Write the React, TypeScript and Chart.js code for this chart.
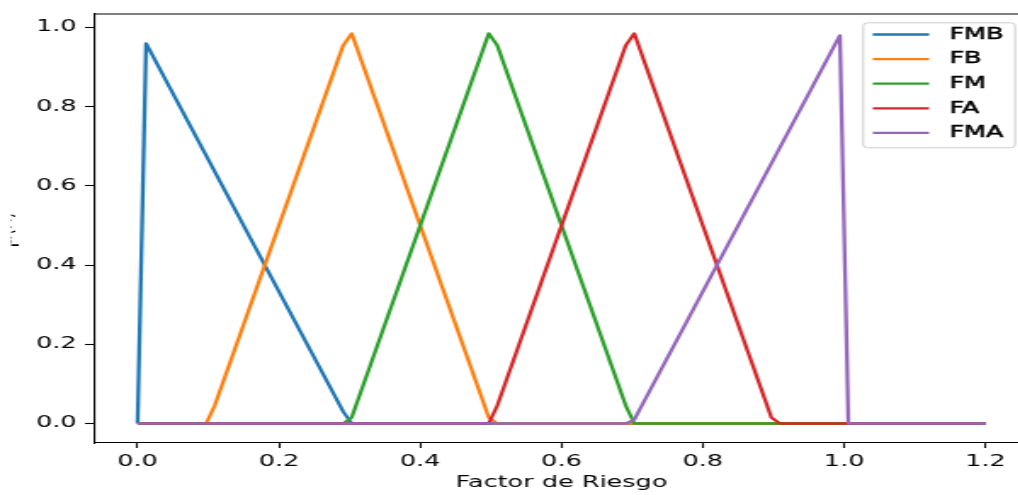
import React, { useEffect, useRef } from 'react';
import { Chart, registerables } from 'chart.js';

Chart.register(...registerables);

// ---- data ----
const seriesNames = ['FMB', 'FB', 'FM', 'FA', 'FMA'];
const seriesColors = ['#1f77b4', '#ff7f0e', '#2ca02c', '#d62728', '#9467bd'];

const fmbX = [0, 0.012, 0.291, 0.303, 1.2];
const fmbY = [0, 0.96, 0.03, 0, 0];
const fbX = [0, 0.097, 0.109, 0.291, 0.303, 0.497, 0.509, 1.2];
const fbY = [0, 0, 0.045, 0.955, 0.985, 0.015, 0, 0];
const fmX = [0, 0.291, 0.303, 0.497, 0.509, 0.691, 0.703, 1.2];
const fmY = [0, 0, 0.015, 0.985, 0.955, 0.045, 0, 0];
const faX = [0, 0.497, 0.509, 0.691, 0.703, 0.897, 0.909, 1.2];
const faY = [0, 0, 0.045, 0.955, 0.985, 0.015, 0, 0];
const fmaX = [0, 0.691, 0.703, 0.994, 1.006, 1.2];
const fmaY = [0, 0, 0.01, 0.98, 0, 0];

const xTicks = [0, 0.2, 0.4, 0.6, 0.8, 1.0, 1.2];
const xTickLabels = ['0.0', '0.2', '0.4', '0.6', '0.8', '1.0', '1.2'];
const yTicks = [0, 0.2, 0.4, 0.6, 0.8, 1.0];
const yTickLabels = ['0.0', '0.2', '0.4', '0.6', '0.8', '1.0'];
const xTitle = 'Factor de Riesgo';
const yTitle = 'μ(x)';

// ---- layout / style ----
const STRETCH = 1.7;
const CANVAS_W = 615;
const CANVAS_H = 495;
const FONT = '"DejaVu Sans", sans-serif';
const LINE_W = 2.3;

const allX = [fmbX, fbX, fmX, faX, fmaX];
const allY = [fmbY, fbY, fmY, faY, fmaY];

const overlayPlugin = {
  id: 'mplOverlay',
  afterDraw(chart: any) {
    const { ctx, chartArea: a } = chart;
    ctx.save();
    // top spine
    ctx.strokeStyle = '#000';
    ctx.lineWidth = 1.1;
    ctx.beginPath();
    ctx.moveTo(a.left - 0.55, a.top);
    ctx.lineTo(a.right, a.top);
    ctx.stroke();

    // y title (mostly outside the picture, as in the reference)
    ctx.save();
    ctx.beginPath();
    ctx.rect(6.6, 0, 30, CANVAS_H);
    ctx.clip();
    ctx.translate(7, (a.top + a.bottom) / 2 + 1);
    ctx.rotate(-Math.PI / 2);
    ctx.fillStyle = '#000';
    ctx.font = `18px ${FONT}`;
    ctx.textAlign = 'center';
    ctx.textBaseline = 'alphabetic';
    ctx.fillText(yTitle, 0, 0);
    ctx.restore();

    // legend
    const boxW = 89.3;
    const boxH = 125;
    const right = a.right - 7.5;
    const left = right - boxW;
    const top = a.top + 8.8;
    ctx.beginPath();
    (ctx as any).roundRect(left, top, boxW, boxH, 2.8);
    ctx.fillStyle = 'rgba(255,255,255,0.8)';
    ctx.fill();
    ctx.strokeStyle = '#cccccc';
    ctx.lineWidth = 1;
    ctx.stroke();
    ctx.font = `15px ${FONT}`;
    ctx.textAlign = 'left';
    ctx.textBaseline = 'middle';
    chart.data.datasets.forEach((ds: any, i: number) => {
      const cy = top + 11.7 + i * 24.6;
      ctx.strokeStyle = ds.borderColor;
      ctx.lineWidth = LINE_W;
      ctx.beginPath();
      ctx.moveTo(left + 5.6, cy);
      ctx.lineTo(left + 38.7, cy);
      ctx.stroke();
      ctx.fillStyle = '#000';
      ctx.strokeStyle = '#000';
      ctx.lineWidth = 0.45;
      ctx.fillText(ds.label, left + 50.6, cy + 0.5);
      ctx.strokeText(ds.label, left + 50.6, cy + 0.5);
    });
    ctx.restore();
  },
};

export default function App() {
  const ref = useRef<HTMLCanvasElement | null>(null);

  useEffect(() => {
    if (!ref.current) return;
    const datasets = seriesNames.map((name, i) => ({
      label: name,
      data: allX[i].map((x, j) => ({ x, y: allY[i][j] })),
      borderColor: seriesColors[i],
      backgroundColor: seriesColors[i],
      borderWidth: LINE_W,
      pointRadius: 0,
      tension: 0,
      fill: false,
      borderJoinStyle: 'round' as const,
      borderCapStyle: 'butt' as const,
      order: seriesNames.length - i,
    }));

    const chart = new Chart(ref.current, {
      type: 'line',
      data: { datasets },
      plugins: [overlayPlugin],
      options: {
        responsive: false,
        animation: false,
        parsing: false as any,
        layout: { padding: { left: 0, top: 9.5, right: CANVAS_W - 604.6, bottom: 0 } },
        plugins: {
          legend: { display: false },
          tooltip: { enabled: false },
          title: { display: false },
        },
        scales: {
          x: {
            type: 'linear',
            min: -0.06,
            max: 1.26,
            afterBuildTicks: (s: any) => {
              s.ticks = xTicks.map((v) => ({ value: v }));
            },
            afterFit: (s: any) => {
              s.height = 52;
            },
            grid: {
              display: true,
              drawOnChartArea: false,
              drawTicks: true,
              tickLength: 5,
              tickWidth: 1.1,
              tickColor: '#000',
            },
            border: { display: true, color: '#000', width: 1.1 },
            ticks: {
              color: '#000',
              font: { family: FONT, size: 15 },
              padding: 5,
              maxRotation: 0,
              autoSkip: false,
              callback: (_v: any, i: number) => xTickLabels[i],
            },
            title: {
              display: true,
              text: xTitle,
              color: '#000',
              font: { family: FONT, size: 15 },
              padding: { top: 0, bottom: 2.5 },
            },
          },
          y: {
            type: 'linear',
            min: -0.0492,
            max: 1.0341,
            afterBuildTicks: (s: any) => {
              s.ticks = yTicks.map((v) => ({ value: v }));
            },
            afterFit: (s: any) => {
              s.width = 56;
            },
            grid: {
              display: true,
              drawOnChartArea: false,
              drawTicks: true,
              tickLength: 6,
              tickWidth: 1.1,
              tickColor: '#000',
            },
            border: { display: true, color: '#000', width: 1.1 },
            ticks: {
              color: '#000',
              font: { family: FONT, size: 15 },
              padding: 5,
              autoSkip: false,
              callback: (_v: any, i: number) => yTickLabels[i],
            },
          },
        },
      },
    });
    return () => chart.destroy();
  }, []);

  return (
    <div
      style={{
        position: 'fixed',
        left: 0,
        top: 0,
        width: 1018,
        height: 495,
        overflow: 'hidden',
        background: '#fff',
      }}
    >
      <div style={{ transform: `scaleX(${STRETCH})`, transformOrigin: '0 0', width: CANVAS_W, height: CANVAS_H }}>
        <canvas ref={ref} width={CANVAS_W} height={CANVAS_H} style={{ display: 'block' }} />
      </div>
    </div>
  );
}
